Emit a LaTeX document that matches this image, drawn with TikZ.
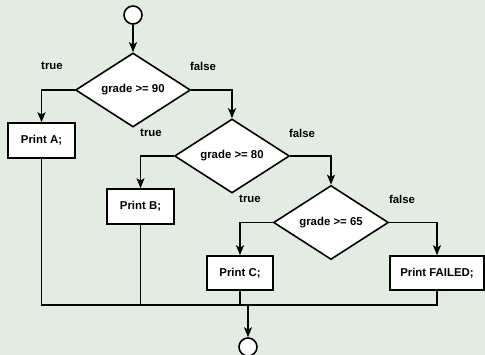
\documentclass[tikz,border=0pt]{standalone}
\usepackage{fontspec}
\setmainfont{Liberation Sans}
\usetikzlibrary{shapes.geometric,arrows.meta,calc}
\definecolor{bgc}{HTML}{E2ECE2}
\begin{document}
\begin{tikzpicture}[x=1pt,y=-1pt,
  every node/.style={font=\fontsize{11.4}{13}\selectfont\bfseries},
  term/.style={circle,draw,fill=white,line width=1.6pt,minimum size=18pt,inner sep=0pt},
  decision/.style={diamond,draw,fill=white,line width=1.6pt,inner sep=0pt,minimum width=115pt,minimum height=66pt},
  action/.style={rectangle,draw,fill=white,line width=1.6pt,minimum height=35pt,inner sep=2pt},
  lbl/.style={inner sep=0pt},
  flow/.style={line width=1.6pt},
  arr/.style={flow,-{Stealth[length=10pt,width=8pt,inset=2.5pt]}}]
\useasboundingbox[fill=bgc] (0,0) rectangle (485,355);
\node[term] (start) at (133,15) {};
\node[decision] (d1) at (133,90) {grade >= 90};
\node[action,minimum width=67pt] (A) at (41.5,140.5) {Print A;};
\node[decision] (d2) at (232,156) {grade >= 80};
\node[action,minimum width=67pt] (B) at (140.5,206.5) {Print B;};
\node[decision] (d3) at (331,222.5) {grade >= 65};
\node[action,minimum width=66pt,minimum height=34pt] (C) at (240,273) {Print C;};
\node[action,minimum width=94pt,minimum height=34pt] (F) at (437,273) {Print FAILED;};
\coordinate (m) at (248,305);
\node[term] (end) at (248,347) {};
\node[lbl] (t1) at (52,66) {true};
\node[lbl] (f1) at (203,66) {false};
\node[lbl] (t2) at (151,133) {true};
\node[lbl] (f2) at (302,133) {false};
\node[lbl] (t3) at (250,199) {true};
\node[lbl] (f3) at (402,199) {false};
\draw[arr] (start) -- (d1.north);
\draw[arr] (d1.west) -| (A.north);
\draw[arr] (d1.east) -| (d2.north);
\draw[arr] (d2.west) -| (B.north);
\draw[arr] (d2.east) -| (d3.north);
\draw[arr] (d3.west) -| (C.north);
\draw[arr] (d3.east) -| (F.north);
\draw[flow] (A.south) |- (m);
\draw[flow] (B.south) |- (m);
\draw[flow] (C.south) |- (m);
\draw[flow] (F.south) |- (m);
\draw[arr] (m) -- (end.north);
\end{tikzpicture}
\end{document}
